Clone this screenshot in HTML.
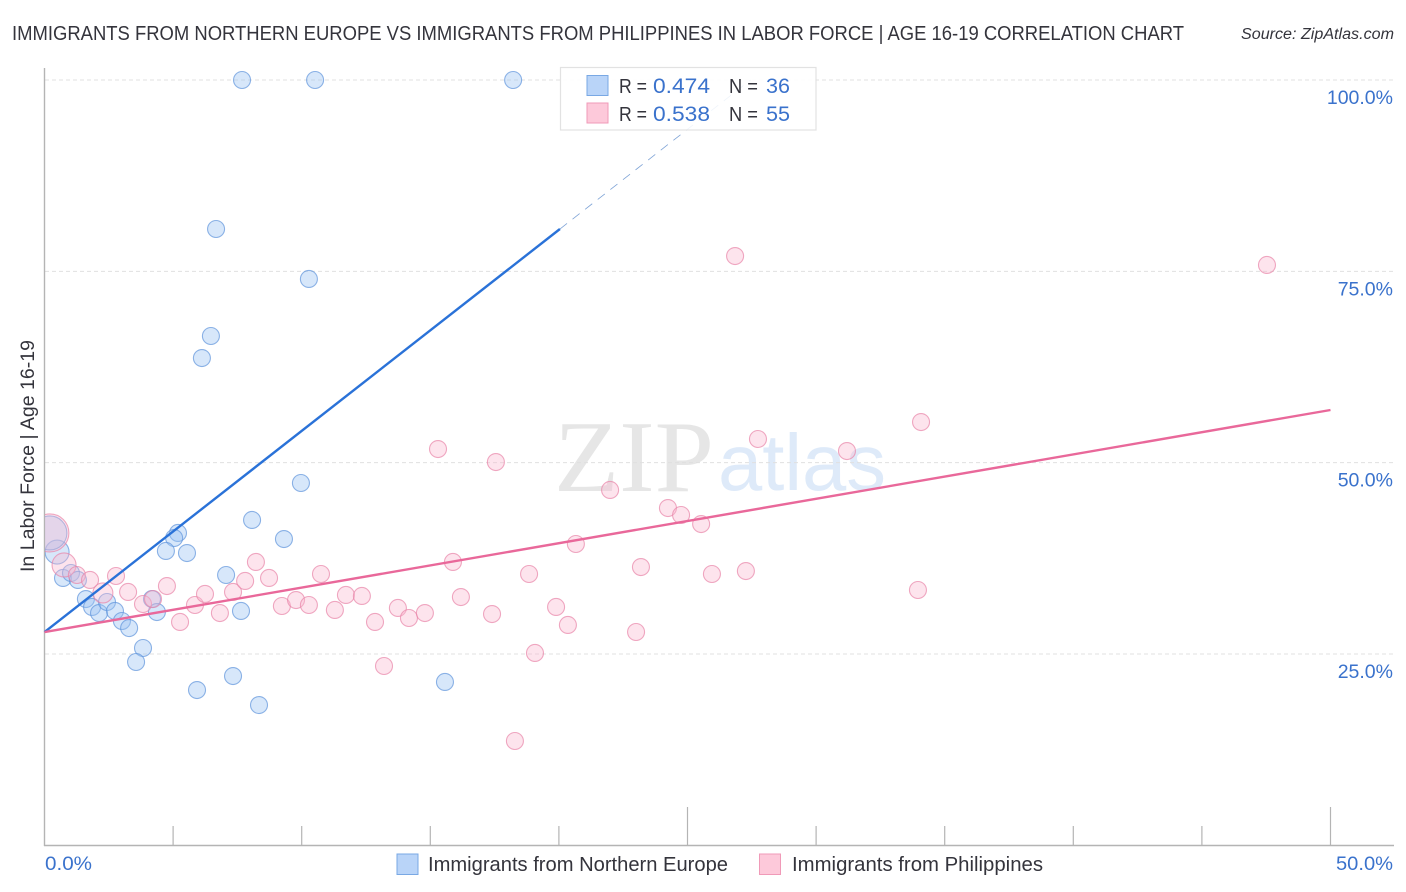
<!DOCTYPE html>
<html lang="en">
<head>
<meta charset="utf-8">
<title>Correlation chart</title>
<style>
html,body{margin:0;padding:0;background:#fff;}
svg{display:block;font-family:"Liberation Sans",sans-serif;}
</style>
</head>
<body>
<svg id="chart" width="1406" height="892" viewBox="0 0 1406 892">
  <defs><clipPath id="plot-clip"><rect x="45" y="60" width="1350" height="785"></rect></clipPath></defs>
  <rect x="0" y="0" width="1406" height="892" fill="#ffffff"></rect>
  <text x="12" y="40" font-size="20" fill="#34343c" textLength="1172" lengthAdjust="spacingAndGlyphs">IMMIGRANTS FROM NORTHERN EUROPE VS IMMIGRANTS FROM PHILIPPINES IN LABOR FORCE | AGE 16-19 CORRELATION CHART</text>
  <text x="1241" y="39" font-size="15.5" font-style="italic" fill="#34343c" textLength="153" lengthAdjust="spacingAndGlyphs">Source: ZipAtlas.com</text>

  <g>
    <text x="554" y="491" font-family="'Liberation Serif',serif" font-size="102" fill="#e6e6e6" textLength="160" lengthAdjust="spacingAndGlyphs">ZIP</text>
    <text x="718" y="490" font-size="80" fill="#deeaf9" textLength="168" lengthAdjust="spacingAndGlyphs">atlas</text>
  </g>

  <g id="grid"></g>
  <g id="axes"></g>
  <g id="points" clip-path="url(#plot-clip)"></g>
  <g id="trends"></g>
  <g id="labels"></g>

  <text transform="translate(34,572) rotate(-90)" font-size="19.5" fill="#34343c" textLength="232" lengthAdjust="spacingAndGlyphs">In Labor Force | Age 16-19</text>

  <g>
    <rect x="560.5" y="67.5" width="255.5" height="62.5" fill="#ffffff" fill-opacity="0.88" stroke="#e2e2e2" stroke-width="1.2"></rect>
    <rect x="587" y="75.5" width="21" height="20" fill="#b9d4f8" stroke="#79a8e4" stroke-width="1"></rect>
    <rect x="587" y="103" width="21" height="20" fill="#fdc9da" stroke="#f09ab8" stroke-width="1"></rect>
    <text x="619" y="93" font-size="20" fill="#34343c" textLength="28" lengthAdjust="spacingAndGlyphs">R =</text>
    <text x="653" y="93" font-size="21" fill="#3a72cc" textLength="57" lengthAdjust="spacingAndGlyphs">0.474</text>
    <text x="729" y="93" font-size="20" fill="#34343c" textLength="29" lengthAdjust="spacingAndGlyphs">N =</text>
    <text x="766" y="93" font-size="21" fill="#3a72cc" textLength="24" lengthAdjust="spacingAndGlyphs">36</text>
    <text x="619" y="121" font-size="20" fill="#34343c" textLength="28" lengthAdjust="spacingAndGlyphs">R =</text>
    <text x="653" y="121" font-size="21" fill="#3a72cc" textLength="57" lengthAdjust="spacingAndGlyphs">0.538</text>
    <text x="729" y="121" font-size="20" fill="#34343c" textLength="29" lengthAdjust="spacingAndGlyphs">N =</text>
    <text x="766" y="121" font-size="21" fill="#3a72cc" textLength="24" lengthAdjust="spacingAndGlyphs">55</text>
  </g>

  <g>
    <rect x="397" y="854" width="21" height="20.5" fill="#b9d4f8" stroke="#79a8e4" stroke-width="1"></rect>
    <text x="428" y="871" font-size="20" fill="#34343c" textLength="300" lengthAdjust="spacingAndGlyphs">Immigrants from Northern Europe</text>
    <rect x="759.5" y="854" width="21" height="20.5" fill="#fdc9da" stroke="#f09ab8" stroke-width="1"></rect>
    <text x="792" y="871" font-size="20" fill="#34343c" textLength="251" lengthAdjust="spacingAndGlyphs">Immigrants from Philippines</text>
  </g>
</svg>
<script>
var xTicks = [0, 5, 10, 15, 20, 25, 30, 35, 40, 45, 50];
var xMajorTicks = [25, 50];
var yGridValues = [100, 75, 50, 25];
var yTickLabels = ["100.0%", "75.0%", "50.0%", "25.0%"];
var xTickLabelValues = ["0.0%", "50.0%"];

var blueX = [7.68,10.52,18.22,6.67,10.28,6.47,6.12,9.97,8.07,9.31,5.19,5.04,4.72,5.54,7.06,7.64,0.72,1.03,1.30,1.61,1.85,2.12,2.43,2.74,3.01,3.29,3.83,3.56,4.18,4.37,5.93,7.33,8.34,15.57,0.49,0.21];
var blueY = [100,100,100,80.53,74.0,66.55,63.67,47.34,42.51,40.02,40.81,40.15,38.46,38.19,35.32,30.62,34.93,35.58,34.67,32.18,31.14,30.35,31.79,30.62,29.31,28.39,25.78,23.95,32.18,30.48,20.29,22.12,18.33,21.34,38.32,40.81];
var blueSize = [8.5,8.5,8.5,8.5,8.5,8.5,8.5,8.5,8.5,8.5,8.5,8.5,8.5,8.5,8.5,8.5,8.5,8.5,8.5,8.5,8.5,8.5,8.5,8.5,8.5,8.5,8.5,8.5,8.5,8.5,8.5,8.5,8.5,8.5,12,17];

var pinkX = [0.21,0.76,1.26,1.77,2.78,2.27,3.25,3.83,4.22,4.76,5.27,5.85,6.24,6.82,7.33,7.80,8.22,8.73,9.23,9.78,10.28,10.75,11.29,11.72,12.34,12.85,13.74,14.17,14.79,13.20,16.19,17.40,15.88,18.84,15.30,17.55,21.99,20.66,19.89,20.35,19.07,18.29,23.00,23.19,24.24,24.75,25.53,25.95,27.27,27.74,31.20,34.08,33.96,26.85,47.53];
var pinkY = [40.81,36.63,35.32,34.67,35.19,32.97,33.10,31.53,32.18,33.88,29.18,31.40,32.84,30.35,33.10,34.54,37.02,34.93,31.27,32.05,31.40,35.45,30.75,32.71,32.58,29.18,31.01,29.70,30.35,23.43,32.44,30.22,37.02,35.45,51.78,50.08,46.43,39.37,31.14,28.79,25.13,13.63,27.87,36.36,44.07,43.16,41.98,35.45,35.84,53.09,51.52,55.31,33.36,77.0,75.83];
var pinkSize = [19,12,8.5,8.5,8.5,10,8.5,8.5,8.5,8.5,8.5,8.5,8.5,8.5,8.5,8.5,8.5,8.5,8.5,8.5,8.5,8.5,8.5,8.5,8.5,8.5,8.5,8.5,8.5,8.5,8.5,8.5,8.5,8.5,8.5,8.5,8.5,8.5,8.5,8.5,8.5,8.5,8.5,8.5,8.5,8.5,8.5,8.5,8.5,8.5,8.5,8.5,8.5,8.5,8.5];

var blueTrendX = [0, 20.04];
var blueTrendY = [27.87, 80.53];
var blueDashX = [20.04, 27.45];
var blueDashY = [80.53, 100];
var pinkTrendX = [0, 50];
var pinkTrendY = [27.87, 56.88];

var NS = "http://www.w3.org/2000/svg";
function sx(v) { return 44.5 + v * 25.72; }
function sy(v) { return 80 + (100 - v) * 7.653; }
function make(tag, attrs, parent) {
  var el = document.createElementNS(NS, tag);
  for (var k in attrs) { el.setAttribute(k, attrs[k]); }
  parent.appendChild(el);
  return el;
}
var grid = document.getElementById("grid");
var axes = document.getElementById("axes");
var points = document.getElementById("points");
var trends = document.getElementById("trends");
var labels = document.getElementById("labels");

yGridValues.forEach(function (v, i) {
  var line = make("line", {x1: 45, x2: 1394, y1: sy(v), y2: sy(v), stroke: "#e0e0e0", "stroke-width": 1, "stroke-dasharray": "4 3"}, grid);
  
  
  var t = make("text", {x: 1393, y: sy(v) + 24, "font-size": 19.5, fill: "#3a72cc", "text-anchor": "end"}, labels);
  t.textContent = yTickLabels[i];
  
  
});

var yAxis = make("line", {x1: 44.5, x2: 44.5, y1: 68, y2: 846, stroke: "#b4b4b4", "stroke-width": 1.4}, axes);


var xAxis = make("line", {x1: 44, x2: 1394, y1: 845.5, y2: 845.5, stroke: "#b4b4b4", "stroke-width": 1.4}, axes);


xTicks.forEach(function (v) {
  if (v === 0) { return; }
  var top = xMajorTicks.indexOf(v) >= 0 ? 807 : 826;
  var tick = make("line", {x1: sx(v), x2: sx(v), y1: top, y2: 845, stroke: "#b4b4b4", "stroke-width": 1.2}, axes);
  
  
});

var xLab0 = make("text", {x: 45, y: 870, "font-size": 19.5, fill: "#3a72cc", textLength: 47, lengthAdjust: "spacingAndGlyphs"}, labels);
xLab0.textContent = xTickLabelValues[0];


var xLab1 = make("text", {x: 1336, y: 870, "font-size": 19.5, fill: "#3a72cc", textLength: 57, lengthAdjust: "spacingAndGlyphs"}, labels);
xLab1.textContent = xTickLabelValues[1];



blueX.forEach(function (v, i) {
  var c = make("circle", {cx: sx(v), cy: sy(blueY[i]), r: blueSize[i], fill: "#9cc2f3", "fill-opacity": 0.4, stroke: "#5f94dc", "stroke-opacity": 0.7, "stroke-width": 1.1}, points);
  
  
});
pinkX.forEach(function (v, i) {
  var c = make("circle", {cx: sx(v), cy: sy(pinkY[i]), r: pinkSize[i], fill: "#f9b8cf", "fill-opacity": 0.38, stroke: "#e885a8", "stroke-opacity": 0.7, "stroke-width": 1.1}, points);
  
  
});

var blueLine = make("line", {x1: sx(blueTrendX[0]), y1: sy(blueTrendY[0]), x2: sx(blueTrendX[1]), y2: sy(blueTrendY[1]), stroke: "#2a72d8", "stroke-width": 2.4}, trends);


var blueDash = make("line", {x1: sx(blueDashX[0]), y1: sy(blueDashY[0]), x2: sx(blueDashX[1]), y2: sy(blueDashY[1]), stroke: "#7ea3d6", "stroke-width": 0.8, "stroke-dasharray": "9 7"}, trends);


var pinkLine = make("line", {x1: sx(pinkTrendX[0]), y1: sy(pinkTrendY[0]), x2: sx(pinkTrendX[1]), y2: sy(pinkTrendY[1]), stroke: "#e9689a", "stroke-width": 2.4}, trends);


</script>
</body>
</html>
